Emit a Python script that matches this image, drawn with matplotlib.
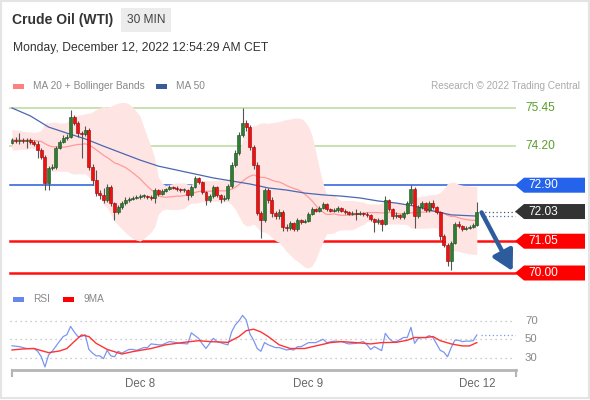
import numpy as np
import pandas as pd
import matplotlib
matplotlib.use("Agg")
import matplotlib.pyplot as plt
from matplotlib.patches import Rectangle, Polygon
from matplotlib.transforms import IdentityTransform

plt.rcParams['font.family'] = ['Liberation Sans', 'DejaVu Sans']

# 30-min candles, Dec 7 evening -> Dec 12 00:30 (opens = previous close)
first_open = 74.29
closes = [
    74.39, 74.36, 74.39, 74.36, 74.39, 74.33, 74.26, 74.06, 73.83, 72.98,
    73.47, 73.50, 74.13, 74.33, 74.46, 74.49, 75.15, 74.95, 74.62, 74.59,
    74.72, 73.50, 73.07, 72.64, 72.58, 72.41, 72.84, 72.31, 72.02, 72.18,
    72.31, 72.41, 72.44, 72.48, 72.51, 72.54, 72.54, 72.51, 72.48, 72.74,
    72.61, 72.71, 72.77, 72.84, 72.81, 72.77, 72.74, 72.74, 72.58, 72.84,
    73.14, 73.01, 72.68, 72.41, 72.54, 72.84, 72.58, 72.44, 72.48, 72.87,
    73.57, 73.96, 74.56, 74.97, 74.82, 74.16, 73.57, 71.98, 71.75, 72.74,
    72.41, 71.98, 71.88, 72.02, 71.52, 71.49, 71.65, 71.45, 71.75, 71.68,
    71.72, 71.95, 72.11, 72.05, 72.15, 72.28, 72.11, 72.05, 72.08, 72.15,
    72.05, 72.02, 71.95, 71.98, 71.95, 71.98, 71.95, 71.92, 71.78, 71.68,
    71.75, 71.62, 72.41, 72.11, 71.88, 71.92, 71.85, 71.98, 72.31, 72.77,
    71.88, 72.18, 72.31, 72.08, 72.31, 72.18, 72.02, 71.22, 70.92, 70.39,
    70.99, 71.62, 71.55, 71.45, 71.49, 71.52, 71.59, 72.03,
]
highs = [
    74.45, 74.48, 74.62, 74.45, 74.46, 74.45, 74.40, 74.36, 74.12, 73.90,
    73.55, 73.60, 74.20, 74.40, 74.55, 74.60, 75.38, 75.22, 75.02, 74.70,
    74.85, 74.78, 73.60, 73.40, 72.75, 72.80, 72.95, 72.90, 72.36, 72.25,
    72.38, 72.50, 72.50, 72.55, 72.58, 72.62, 72.60, 72.58, 72.56, 72.80,
    72.78, 72.78, 72.82, 72.90, 72.88, 72.86, 72.82, 72.80, 72.78, 72.90,
    73.20, 73.18, 73.05, 72.72, 72.60, 72.90, 72.88, 72.62, 72.56, 72.95,
    73.65, 74.05, 74.65, 75.45, 75.05, 74.88, 74.22, 73.65, 72.05, 72.80,
    72.80, 72.50, 72.05, 72.10, 72.08, 71.62, 71.72, 71.70, 71.82, 71.80,
    71.78, 72.00, 72.18, 72.16, 72.20, 72.34, 72.30, 72.16, 72.14, 72.20,
    72.18, 72.10, 72.06, 72.04, 72.10, 72.05, 72.03, 72.00, 71.96, 71.82,
    71.82, 71.80, 72.55, 72.45, 72.15, 72.00, 71.96, 72.05, 72.38, 72.90,
    72.85, 72.25, 72.38, 72.36, 72.38, 72.40, 72.22, 72.06, 71.28, 70.98,
    71.05, 71.70, 71.72, 71.60, 71.55, 71.58, 71.64, 72.36,
]
lows = [
    74.25, 74.30, 74.26, 74.30, 74.13, 74.26, 74.20, 73.80, 73.77, 72.74,
    72.74, 73.40, 73.45, 74.08, 74.28, 74.40, 74.45, 74.90, 74.50, 73.80,
    74.52, 73.40, 72.90, 72.55, 72.45, 72.30, 72.35, 72.20, 71.75, 71.95,
    72.12, 72.25, 72.36, 72.40, 72.44, 72.46, 72.48, 72.45, 72.40, 72.31,
    72.55, 72.56, 72.66, 72.74, 72.76, 72.72, 72.68, 72.68, 72.40, 72.52,
    72.80, 72.95, 72.60, 72.25, 72.35, 72.48, 72.50, 72.30, 72.38, 72.40,
    72.82, 73.50, 73.90, 74.50, 74.70, 74.05, 73.45, 71.90, 71.16, 71.70,
    72.30, 71.85, 71.80, 71.80, 71.40, 71.40, 71.42, 71.38, 71.40, 71.62,
    71.64, 71.68, 71.90, 72.00, 72.00, 72.10, 72.05, 72.00, 72.00, 72.03,
    72.00, 71.96, 71.90, 71.90, 71.75, 71.90, 71.88, 71.86, 71.72, 71.35,
    71.62, 71.39, 71.58, 72.05, 71.80, 71.82, 71.78, 71.80, 71.94, 72.25,
    71.49, 71.82, 72.12, 72.00, 72.02, 72.10, 71.95, 71.10, 70.85, 70.23,
    70.10, 70.95, 71.50, 71.40, 71.42, 71.45, 71.48, 71.55,
]
# closes before the visible window (only used to start the MA 20 / bands)
warmup_closes = [74.60, 74.25, 74.70, 74.40, 74.15, 74.55, 74.35, 74.10, 74.50, 74.65,
                 74.30, 74.20, 74.55, 74.45, 74.25, 74.60, 74.40, 74.20, 74.45]

# MA 50
ma50_bars = [0, 5, 10, 15, 20, 25, 30, 35, 40, 45, 50, 55, 60, 65, 70, 75, 80, 85,
             90, 95, 100, 105, 110, 115, 120, 127]
ma50_vals = [75.45, 75.19, 74.82, 74.62, 74.43, 74.19, 73.96, 73.73, 73.53, 73.40,
             73.27, 73.14, 73.04, 72.94, 72.81, 72.74, 72.64, 72.58, 72.54, 72.48,
             72.38, 72.31, 72.21, 72.05, 71.92, 71.88]

# RSI and its 9-period MA
rsi_bars = [0, 2, 4, 6, 7, 8, 9, 10, 11, 13, 14, 15, 16, 17, 18, 19, 20, 21, 22, 23,
            24, 25, 26, 27, 28, 29, 30, 32, 33, 34, 36, 37, 38, 40, 41, 43, 44, 46, 48,
            49, 51, 52, 53, 55, 56, 58, 59, 60, 61, 62, 63, 64, 65, 66, 67, 68, 69, 70,
            72, 73, 75, 76, 77, 78, 79, 81, 83, 85, 86, 88, 90, 92, 94, 96, 97, 98, 99,
            101, 102, 103, 104, 105, 107, 108, 109, 110, 111, 112, 113, 114, 115, 116,
            117, 118, 119, 120, 121, 122, 123, 124, 125, 126, 127]
rsi_vals = [43, 42, 40, 40, 37, 31, 20, 33, 37, 48, 53, 55, 64, 58, 53, 53, 55, 39, 35, 32,
            32, 29, 38, 32, 31, 37, 35, 39, 39, 38, 41, 41, 45, 44, 44, 47.5, 47, 45.6, 45,
            57, 51, 45, 40, 51, 47.5, 45, 44, 58, 65.6, 70, 76, 71, 56, 49, 40, 37, 46.5, 44,
            41, 41, 38.4, 39, 38.4, 42, 42, 46.4, 46.4, 50, 46.4, 48, 47.5, 45, 45.6, 47.5,
            44, 39, 42, 37.7, 56.5, 51, 47.5, 47.5, 52, 52, 63, 45.6, 51, 52, 52, 54, 52,
            45, 38, 36, 31, 41, 49, 49, 47.5, 48, 48, 48.5, 54.7]
rsi_ma_bars = [0, 3, 6, 8, 10, 13, 15, 17, 19, 21, 23, 26, 30, 33, 38, 42, 47, 51, 54, 59,
               62, 64, 66, 68, 70, 73, 76, 80, 83, 87, 90, 94, 98, 101, 105, 108, 110,
               113, 115, 117, 120, 123, 125, 127]
rsi_ma_vals = [38.4, 39.5, 40, 37.7, 35.5, 37.3, 40, 47.5, 54.7, 53, 45.6, 39, 34, 36.6, 40,
               44, 46.7, 48.5, 47.5, 46.7, 53, 59.4, 61, 58, 53, 44, 40, 40, 42.8, 46.4,
               47.5, 46.4, 45, 46.4, 46.7, 49, 52, 51.8, 53, 48.5, 45, 42.8, 42.8, 46.4]

resistances = [75.45, 74.20]
pivot = 72.90
supports = [71.05, 70.00]
last_price = 72.03
date_ticks = [35, 81, 127]
date_labels = ["Dec 8", "Dec 9", "Dec 12"]

W, H = 590, 400
def fx(x):
    return x / W
def fy(y):
    return 1 - y / H

fig = plt.figure(figsize=(W / 100, H / 100), dpi=100)
fig.patch.set_facecolor("white")

n = len(closes)
idx = np.arange(n)
opens = np.r_[first_open, closes[:-1]]
cl = np.array(closes)

# Bollinger bands (20, 2)
s = pd.Series(warmup_closes + closes)
ma20 = s.rolling(20).mean().values[-n:]
sd = s.rolling(20).std(ddof=0).values[-n:]
upper, lower = ma20 + 2 * sd, ma20 - 2 * sd

xlim = ((0 - 12) / 3.66, (W - 12) / 3.66)

ax = fig.add_axes([0, fy(285), 1, (285 - 95) / H])
ax.set_xlim(*xlim)
ax.set_ylim(75.45 - (285 - 108) / 30.275, 75.45 + (108 - 95) / 30.275)
ax.axis("off")

ax.fill_between(idx, lower, upper, color="#ffe4e4", lw=0, zorder=1)
ax.plot(idx, ma20, color="#ff9a9a", lw=0.9, zorder=2)
ax.plot(ma50_bars, ma50_vals, color="#4a68b0", lw=0.9, zorder=2)

x0, x1 = 10 / W, 515 / W
for r in resistances:
    ax.axhline(r, xmin=x0, xmax=x1, color="#c9e2b0", lw=1.4, zorder=0)
    ax.text(525 / W, r, f"{r:.2f}", transform=ax.get_yaxis_transform(),
            color="#5a9e2a", fontsize=8.6, va="center")
ax.axhline(pivot, xmin=x0, xmax=x1, color="#2a5bd7", lw=1.1, zorder=0)
for sp in supports:
    ax.axhline(sp, xmin=x0, xmax=x1, color="#ff1010", lw=1.8, zorder=0)

# last-price and MA50 dotted extensions
ax.axhline(last_price, xmin=481 / W, xmax=x1, color="#555555", lw=0.9, ls=(0, (1, 2)))
ax.axhline(ma50_vals[-1], xmin=481 / W, xmax=x1, color="#4a68b0", lw=0.9, ls=(0, (1, 2)))

# candles
for i in range(n):
    o, c = opens[i], cl[i]
    up = c >= o
    ax.vlines(i, lows[i], highs[i], color="#555555", lw=0.8, zorder=3)
    col = "#2e7d32" if up else "#ee1111"
    ec = "#1b4d1e" if up else "#9b0000"
    ax.add_patch(Rectangle((i - 0.4, min(o, c)), 0.8, max(abs(c - o), 0.02),
                           facecolor=col, edgecolor=ec, lw=0.4, zorder=4))

# forecast arrow
ax.annotate("", xy=(n - 1 + 9.8, supports[-1] + 0.06), xytext=(n - 1 + 1.3, last_price - 0.03),
            arrowprops=dict(arrowstyle="-|>,head_width=0.55,head_length=1.0",
                            color="#2c5c9c", lw=3.2, mutation_scale=12, shrinkA=0, shrinkB=0),
            zorder=6)

fig.canvas.draw()

def tag(level, color):
    yd = ax.transData.transform((0, level))[1]
    verts = [(515, yd), (524, yd + 7.5), (585, yd + 7.5), (585, yd - 7.5), (524, yd - 7.5)]
    fig.add_artist(Polygon(verts, closed=True, facecolor=color, edgecolor="none",
                           transform=IdentityTransform()))
    fig.text(fx(528), yd / H, f"{level:.2f}", color="white", fontsize=8.6, va="center")

tag(pivot, "#2563eb")
tag(last_price, "#333333")
for sp in supports:
    tag(sp, "#ff0000")

# RSI panel
ax2 = fig.add_axes([0, fy(370), 1, 70 / H])
ax2.set_xlim(*xlim)
ax2.set_ylim(50 - (370 - 339.3) / 0.92, 50 + (339.3 - 300) / 0.92)
ax2.axis("off")
for lv in [70, 50, 30]:
    ax2.axhline(lv, xmin=x0, xmax=x1, color="#bbbbbb", lw=0.9, ls=(0, (1, 3)))
    ax2.text(525 / W, lv, str(lv), transform=ax2.get_yaxis_transform(),
             color="#888888", fontsize=8.2, va="center")
ax2.plot(rsi_bars, rsi_vals, color="#7b96f0", lw=0.9, zorder=3)
ax2.plot(rsi_ma_bars, rsi_ma_vals, color="#ff3333", lw=1.0, zorder=3)
ax2.axhline(rsi_vals[-1], xmin=481 / W, xmax=x1, color="#7b96f0", lw=0.9, ls=(0, (1, 2)))

# x axis
fig.add_artist(plt.Line2D([fx(12), fx(516)], [fy(370), fy(370)], color="#b5b5b5", lw=2))
for xe in (12, 516):
    fig.add_artist(plt.Line2D([fx(xe), fx(xe)], [fy(370), fy(376)], color="#b5b5b5", lw=1.5))
for t, lab in zip(date_ticks, date_labels):
    ax2.text(t, -0.2, lab, transform=ax2.get_xaxis_transform(), ha="center", va="center",
             color="#666666", fontsize=8.3)

# header
fig.text(fx(12), fy(20), "Crude Oil (WTI)", fontsize=10, weight="bold", color="#333333", va="center")
fig.add_artist(Rectangle((fx(121), fy(32)), 50 / W, 24 / H, transform=fig.transFigure,
                         facecolor="#ececec", edgecolor="none"))
fig.text(fx(146), fy(20), "30 MIN", fontsize=8.6, color="#444444", ha="center", va="center")
fig.text(fx(13), fy(48), "Monday, December 12, 2022 12:54:29 AM CET", fontsize=8.7,
         color="#333333", va="center")

# legends
def legend_item(x, y, color, label):
    fig.add_artist(Rectangle((fx(x), fy(y + 2.5)), 11 / W, 5 / H, transform=fig.transFigure,
                             facecolor=color, edgecolor="none"))
    fig.text(fx(x + 20), fy(y), label, fontsize=7.3, color="#888888", va="center")

legend_item(13, 86, "#ff8080", "MA 20 + Bollinger Bands")
legend_item(156, 86, "#3a5a9a", "MA 50")
fig.text(fx(580), fy(86), "Research \u00a9 2022 Trading Central", fontsize=7.2, color="#aaaaaa",
         ha="right", va="center")
legend_item(13, 299, "#6688ee", "RSI")
legend_item(63, 299, "#ff0000", "9MA")

# outer frame
fig.add_artist(Rectangle((fx(1), fy(398)), 588 / W, 397 / H, transform=fig.transFigure,
                         facecolor="none", edgecolor="#e4e4e4", lw=1.5))

fig.savefig("out.png", dpi=100)
